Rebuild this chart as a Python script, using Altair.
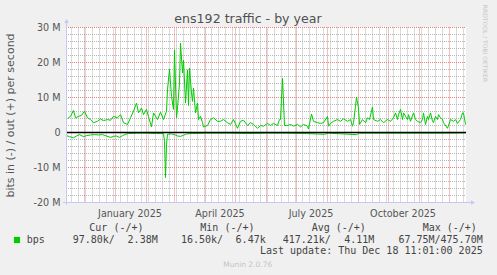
import altair as alt
import pandas as pd

# ---------------- data ----------------
START = pd.Timestamp("2024-11-13 00:00:00")

# day offsets from START and outgoing traffic (Mbit/s)
out_day = [1, 4, 7, 9, 12, 15, 18, 21, 24, 27, 31, 34, 37, 41, 44, 47, 51, 54, 57, 61,
           64, 67, 70, 72, 75, 77, 80, 82, 85, 87, 91, 94, 97, 100, 101, 103, 105, 107, 108, 110,
           111, 113, 114, 116, 117, 119, 121, 122, 123, 125, 126, 127, 129, 131, 132, 134, 136, 137, 141, 144,
           147, 151, 154, 157, 161, 164, 167, 171, 174, 177, 181, 184, 187, 191, 194, 197, 201, 204, 207, 211,
           213, 214, 216, 218, 221, 224, 227, 231, 234, 237, 241, 242, 245, 247, 251, 254, 257, 261, 262, 264,
           267, 271, 274, 277, 281, 284, 286, 287, 289, 290, 292, 293, 296, 299, 301, 303, 306, 307, 311, 314,
           317, 321, 324, 327, 329, 331, 332, 334, 336, 337, 341, 342, 344, 347, 349, 351, 354, 356, 357, 359,
           361, 362, 364, 366, 367, 369, 371, 372, 374, 376, 377, 381, 384, 387, 389, 391, 394, 396, 397, 399,
           399.4]
out_mbps = [4.0, 4.6, 6.3, 4.2, 4.6, 4.9, 6.1, 4.2, 3.7, 2.8, 3.2, 3.9, 3.4, 3.7, 3.5, 4.6, 4.2, 5.1, 2.8, 2.3,
            4.2, 6.1, 8.4, 5.6, 7.0, 5.1, 6.6, 4.5, 1.6, 5.6, 3.7, 5.8, 3.7, 6.1, 12.2, 18.1, 10.3, 6.6, 23.6, 4.2,
            7.0, 14.1, 25.5, 17.0, 20.7, 8.4, 17.9, 7.7, 18.4, 11.3, 8.9, 12.7, 5.6, 8.4, 3.7, 4.6, 2.8, 1.6, 2.0, 3.7,
            4.2, 3.2, 3.2, 3.7, 2.8, 2.3, 3.7, 1.2, 3.2, 3.5, 2.0, 2.8, 2.3, 1.2, 2.0, 1.8, 2.6, 2.0, 2.6, 2.0,
            3.7, 3.7, 15.5, 2.0, 2.0, 2.3, 1.8, 2.3, 1.6, 2.3, 1.8, 1.0, 5.3, 3.2, 2.8, 2.6, 2.8, 4.6, 1.8, 2.6,
            3.2, 3.7, 3.2, 3.9, 3.2, 3.7, 1.8, 2.8, 7.5, 10.1, 7.0, 2.3, 3.7, 2.8, 4.2, 3.7, 7.3, 3.7, 3.2, 3.7,
            2.8, 3.7, 3.2, 4.2, 5.6, 3.7, 5.1, 6.6, 3.7, 5.6, 3.7, 5.1, 3.2, 5.6, 3.7, 3.2, 2.8, 3.7, 5.6, 2.3,
            4.6, 3.7, 5.6, 3.2, 2.8, 4.6, 3.7, 5.1, 4.2, 3.7, 2.8, 1.2, 3.7, 3.2, 3.7, 2.6, 3.7, 5.6, 5.6, 2.3,
            2.38]

# incoming traffic (drawn negative, Mbit/s)
in_day = [0, 3, 7, 10, 13, 17, 20, 24, 28, 32, 36, 40, 44, 47, 50, 53, 56, 59, 62, 70,
          80, 90, 97, 98, 99, 100, 101, 105, 108, 111, 114, 117, 120, 126, 140, 160, 180, 200, 220, 240,
          258, 262, 290, 293, 320, 350, 380, 399.4]
in_mbps = [-0.9, -1.2, -1.5, -1.0, -0.6, -1.2, -0.9, -0.7, -0.6, -0.7, -0.6, -1.0, -1.4, -1.1, -1.0, -1.4, -0.9, -0.5, -0.3, -0.2,
           -0.2, -0.3, -0.3, -2.5, -12.9, -3.5, -0.5, -0.4, -0.6, -1.0, -1.1, -0.8, -0.4, -0.3, -0.2, -0.2, -0.3, -0.2, -0.2, -0.3,
           -0.5, -0.2, -0.6, -0.2, -0.2, -0.2, -0.2, -0.1]

x_label_months = [1, 4, 7, 10]          # labelled months of 2025 (centred mid-month)
y_ticks = [-20, -10, 0, 10, 20, 30]
y_minor = [v for v in range(-20, 31, 2) if v % 10 != 0]

title_text = "ens192 traffic - by year"
y_title = "bits in (-) / out (+) per second"
legend_headers = ["Cur (-/+)", "Min (-/+)", "Avg (-/+)", "Max (-/+)"]
series_name = "bps"
stat_left = ["97.80k/", "16.50k/", "417.21k/"]
stat_right = ["2.38M", "6.47k", "4.11M", "67.75M/475.70M"]
last_update = "Last update: Thu Dec 18 11:01:00 2025"
munin_text = "Munin 2.0.76"
rrd_text = "RRDTOOL / TOBI OETIKER"

# ---------------- frames ----------------
df_out = pd.DataFrame({"date": [START + pd.Timedelta(days=d) for d in out_day], "v": out_mbps})
df_in = pd.DataFrame({"date": [START + pd.Timedelta(days=d) for d in in_day], "v": in_mbps})
df_zero = pd.DataFrame({"date": [START - pd.Timedelta(hours=12), START + pd.Timedelta(days=399.5)], "v": [0, 0]})
months = pd.date_range("2024-12-01", "2025-12-01", freq="MS")
weeks = pd.date_range("2024-11-18", "2025-12-18", freq="W-MON")
weeks = [w for w in weeks if w.day != 1]
df_months = pd.DataFrame({"date": months})
df_weeks = pd.DataFrame({"date": weeks})
df_ymaj = pd.DataFrame({"v": [v for v in y_ticks if v != -20]})
df_ymin = pd.DataFrame({"v": y_minor})

W, H = 400, 176
PXM = 3.5                      # pixels per Mbit/s
GREEN = "#00CC00"
AXC = "#C4C8F2"
MINOR = "#B4B4B4"
MAJOR = "#E48080"
FONT = "DejaVu Sans"
MONO = "DejaVu Sans Mono"

# domains offset by half a pixel so that grid lines fall on pixel centres
y_top = 30 + 0.5 / PXM
y_bot = y_top - H / PXM
xs = alt.Scale(domain=[alt.DateTime(year=2024, month=11, date=12, hours=12),
                       alt.DateTime(year=2025, month=12, date=17, hours=12)])
ys = alt.Scale(domain=[y_bot, y_top], nice=False, zero=False)

X_AXIS = alt.Axis(
    title="", values=[alt.DateTime(year=2025, month=m, date=15) for m in x_label_months],
    format="%B %Y", domain=False, ticks=False, tickSize=0, grid=False,
    labelFont=FONT, labelFontSize=9.6, labelColor="#555555", labelPadding=5)
Y_AXIS = alt.Axis(
    title=y_title, values=y_ticks, domain=False, ticks=False, tickSize=0, grid=False,
    labelExpr="datum.value == 0 ? '0' : datum.value + ' M'",
    labelFont=FONT, labelFontSize=9.6, labelColor="#555555", labelPadding=6,
    titleFont=FONT, titleFontSize=11, titleFontWeight="normal", titleColor="#555555",
    titleX=-53, titleY=H / 2, titleAngle=270, titleAlign="center", titleBaseline="alphabetic")


def X():
    return alt.X("date:T", scale=xs, axis=X_AXIS)


def Y():
    return alt.Y("v:Q", scale=ys, axis=Y_AXIS)


minor_v = alt.Chart(df_weeks).mark_rule(color=MINOR, strokeDash=[1, 1], strokeWidth=1).encode(
    x=X(), y=alt.value(0.5), y2=alt.value(H - 0.5))
major_v = alt.Chart(df_months).mark_rule(color=MAJOR, strokeDash=[1, 1], strokeWidth=1).encode(
    x=X(), y=alt.value(0.5), y2=alt.value(H - 0.5))
minor_h = alt.Chart(df_ymin).mark_rule(color=MINOR, strokeDash=[1, 1], strokeWidth=1).encode(
    y=Y(), x=alt.value(0), x2=alt.value(W))
major_h = alt.Chart(df_ymaj).mark_rule(color=MAJOR, strokeDash=[1, 1], strokeWidth=1).encode(
    y=Y(), x=alt.value(0), x2=alt.value(W))

out_line = alt.Chart(df_out).mark_line(color=GREEN, strokeWidth=1, clip=True).encode(x=X(), y=Y())
in_line = alt.Chart(df_in).mark_line(color=GREEN, strokeWidth=1, clip=True).encode(x=X(), y=Y())
zero_line = alt.Chart(df_zero).mark_line(color="#000000", strokeWidth=1.6).encode(x=X(), y=Y())

one = pd.DataFrame({"t": [""]})
y_axis_line = alt.Chart(one).mark_rule(color=AXC, strokeWidth=1).encode(
    x=alt.value(0.5), y=alt.value(-5), y2=alt.value(H + 2))
x_axis_line = alt.Chart(one).mark_rule(color=AXC, strokeWidth=1).encode(
    x=alt.value(-3), x2=alt.value(W + 6), y=alt.value(H - 0.5))
arrow_up = alt.Chart(one).mark_point(shape="triangle-up", filled=True, size=22, color=AXC, opacity=1).encode(
    x=alt.value(0.5), y=alt.value(-6))
arrow_right = alt.Chart(one).mark_point(shape="triangle-right", filled=True, size=22, color=AXC, opacity=1).encode(
    x=alt.value(W + 7), y=alt.value(H - 0.5))


def txt(s, x, y, align="left", size=10, color="#444444", font=MONO, angle=0, baseline="alphabetic"):
    kw = dict(align=align, baseline=baseline, fontSize=size, color=color, font=font)
    if angle:
        kw["angle"] = angle
    return alt.Chart(pd.DataFrame({"t": [s]})).mark_text(**kw).encode(
        text="t:N", x=alt.value(x), y=alt.value(y))


texts = [
    txt(title_text, 182, -3.7, align="center", size=12.6, color="#505050", font=FONT),
    txt(rrd_text, 419, 16.5, align="center", size=6, color="#C8C8C8", font=FONT, angle=90, baseline="middle"),
]
for s, x in zip(legend_headers, [23.3, 134.3, 245.7, 356.7]):
    texts.append(txt(s, x, 204.3))
texts.append(txt(series_name, -39.3, 216))
for s, x in zip(stat_left, [6.7, 115, 216.7]):
    texts.append(txt(s, x, 216))
for s, x in zip(stat_right, [91.7, 199.7, 308.3, 416.7]):
    texts.append(txt(s, x, 216, align="right"))
texts.append(txt(last_update, 416.7, 227.3, align="right"))
texts.append(txt(munin_text, 181.7, 240.3, align="center", size=7.5, color="#C4C4C4", font=FONT))

square = alt.Chart(one).mark_square(size=38, color=GREEN, filled=True, opacity=1).encode(
    x=alt.value(-49), y=alt.value(213))

chart = alt.layer(
    minor_v, minor_h, major_v, major_h, out_line, in_line, zero_line,
    y_axis_line, x_axis_line, arrow_up, arrow_right, square, *texts
).properties(
    width=W, height=H,
    padding={"left": 66, "top": 27, "right": 31, "bottom": 72},
    autosize=alt.AutoSizeParams(type="none"),
    background="#F0F0F0",
).configure_view(fill="white", strokeWidth=0)

chart.save("out.html", embed_options={"renderer": "svg", "actions": False})
